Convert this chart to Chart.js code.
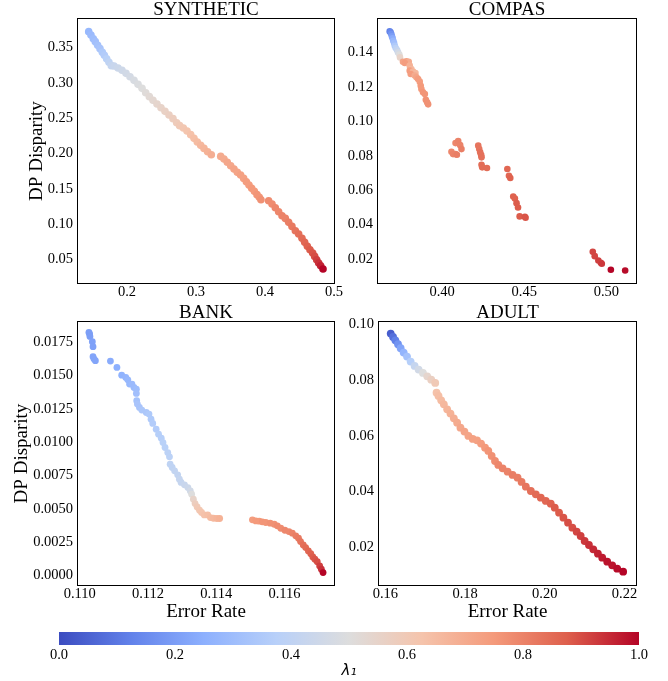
<!DOCTYPE html>
<html>
<head>
<meta charset="utf-8">
<script src="https://cdn.jsdelivr.net/npm/chart.js@4.4.0/dist/chart.umd.min.js"></script>
<style>
    body { margin: 0; background: #fff; }
    #contenitore { position: relative; width: 668px; height: 681px; }
    canvas { position: absolute; }
</style>
</head>
<body>
<div id="contenitore">
    <canvas id="graficoSynthetic" width="345" height="310" style="left:0;top:0"></canvas>
    <canvas id="graficoCompas" width="328" height="310" style="left:340px;top:0"></canvas>
    <canvas id="graficoBank" width="345" height="320" style="left:0;top:303px"></canvas>
    <canvas id="graficoAdult" width="328" height="320" style="left:340px;top:303px"></canvas>
    <canvas id="barraColori" width="668" height="61" style="left:0;top:620px"></canvas>
</div>
<script>
const titoli = ['SYNTHETIC', 'COMPAS', 'BANK', 'ADULT'];

// SYNTHETIC
const synErr = [0.1445, 0.1478, 0.1512, 0.1541, 0.1575, 0.1609, 0.1643, 0.1672, 0.1705, 0.1739, 0.1773,
    0.1812, 0.1870, 0.1928, 0.1986, 0.2044, 0.2102, 0.2160, 0.2218, 0.2271, 0.2324, 0.2377, 0.2435, 0.2493, 0.2551,
    0.2609, 0.2667, 0.2720, 0.2763, 0.2817, 0.2870, 0.2923, 0.2971, 0.3019, 0.3068, 0.3116, 0.3169, 0.3222,
    0.3358, 0.3406, 0.3454, 0.3503, 0.3551, 0.3599, 0.3647, 0.3691, 0.3730, 0.3768, 0.3807, 0.3846, 0.3884, 0.3918, 0.3942,
    0.4053, 0.4102, 0.4150, 0.4198, 0.4247, 0.4295, 0.4343, 0.4391, 0.4440, 0.4488, 0.4536, 0.4575, 0.4614, 0.4652,
    0.4691, 0.4720, 0.4749, 0.4778, 0.4807, 0.4841];
const synDp = [0.3721, 0.3674, 0.3622, 0.3580, 0.3528, 0.3481, 0.3429, 0.3387, 0.3339, 0.3288, 0.3241,
    0.3236, 0.3208, 0.3175, 0.3132, 0.3085, 0.3033, 0.2977, 0.2920, 0.2859, 0.2803, 0.2751, 0.2699, 0.2647, 0.2595,
    0.2543, 0.2492, 0.2435, 0.2393, 0.2360, 0.2317, 0.2266, 0.2214, 0.2162, 0.2115, 0.2072, 0.2025, 0.1983,
    0.1959, 0.1922, 0.1875, 0.1827, 0.1780, 0.1733, 0.1696, 0.1648, 0.1601, 0.1554, 0.1507, 0.1465, 0.1418, 0.1380, 0.1347,
    0.1333, 0.1286, 0.1234, 0.1177, 0.1121, 0.1083, 0.1027, 0.0970, 0.0909, 0.0862, 0.0801, 0.0744, 0.0688, 0.0640,
    0.0593, 0.0546, 0.0499, 0.0452, 0.0414, 0.0367];
const synLam = [0.28, 0.29, 0.30, 0.31, 0.32, 0.33, 0.35, 0.36, 0.38, 0.40, 0.42,
    0.43, 0.44, 0.45, 0.46, 0.47, 0.48, 0.49, 0.50, 0.51, 0.52, 0.53, 0.54, 0.55, 0.56,
    0.57, 0.58, 0.59, 0.60, 0.61, 0.62, 0.63, 0.64, 0.65, 0.66, 0.67, 0.68, 0.69,
    0.70, 0.70, 0.71, 0.71, 0.72, 0.72, 0.73, 0.73, 0.74, 0.74, 0.75, 0.75, 0.76, 0.76, 0.77,
    0.78, 0.78, 0.79, 0.79, 0.80, 0.80, 0.81, 0.82, 0.83, 0.84, 0.85, 0.86, 0.87, 0.88,
    0.89, 0.90, 0.92, 0.94, 0.96, 1.00];

// COMPAS
const compasErr = [0.3681, 0.3687, 0.3691, 0.3695, 0.3699, 0.3703, 0.3708, 0.3712, 0.3718, 0.3726, 0.3732, 0.3740, 0.3744,
    0.3762, 0.3783, 0.3797, 0.3773, 0.3803, 0.3813, 0.3803, 0.3823, 0.3838, 0.3809, 0.3834, 0.3844, 0.3854, 0.3864,
    0.3870, 0.3874, 0.3884, 0.3895, 0.3901, 0.3909, 0.3915,
    0.4082, 0.4098, 0.4110, 0.4118, 0.4057, 0.4067, 0.4082, 0.4090,
    0.4220, 0.4226, 0.4232, 0.4238, 0.4240, 0.4240, 0.4244, 0.4273,
    0.4397, 0.4407, 0.4415,
    0.4433, 0.4443, 0.4453, 0.4462, 0.4472, 0.4504, 0.4508,
    0.4917, 0.4929, 0.4951, 0.4966, 0.4972, 0.5027, 0.5114];
const compasDp = [0.1523, 0.1517, 0.1508, 0.1494, 0.1483, 0.1469, 0.1455, 0.1440, 0.1426, 0.1415, 0.1401, 0.1388, 0.1372,
    0.1347, 0.1349, 0.1347, 0.1339, 0.1324, 0.1304, 0.1295, 0.1289, 0.1281, 0.1275, 0.1266, 0.1256, 0.1246, 0.1231,
    0.1207, 0.1188, 0.1169, 0.1159, 0.1126, 0.1111, 0.1099,
    0.0874, 0.0886, 0.0862, 0.0839, 0.0824, 0.0810, 0.0810, 0.0806,
    0.0859, 0.0839, 0.0820, 0.0804, 0.0791, 0.0748, 0.0733, 0.0729,
    0.0723, 0.0684, 0.0671,
    0.0564, 0.0552, 0.0525, 0.0500, 0.0448, 0.0446, 0.0440,
    0.0242, 0.0217, 0.0192, 0.0178, 0.0173, 0.0138, 0.0134];
const compasLam = [0.12, 0.14, 0.17, 0.20, 0.24, 0.28, 0.31, 0.35, 0.39, 0.42, 0.46, 0.50, 0.55,
    0.72, 0.73, 0.70, 0.74, 0.68, 0.66, 0.74, 0.67, 0.66, 0.74, 0.70, 0.72, 0.74, 0.74,
    0.75, 0.75, 0.76, 0.76, 0.77, 0.77, 0.77,
    0.79, 0.80, 0.80, 0.81, 0.79, 0.80, 0.80, 0.81,
    0.83, 0.83, 0.84, 0.84, 0.84, 0.85, 0.85, 0.85,
    0.86, 0.86, 0.87,
    0.87, 0.87, 0.88, 0.88, 0.88, 0.89, 0.89,
    0.91, 0.91, 0.92, 0.92, 0.93, 1.00, 0.99];

// BANK
const bankErr = [0.11027, 0.11029, 0.11030, 0.11037, 0.11039, 0.11039, 0.11042, 0.11046,
    0.11090, 0.11109, 0.11123, 0.11135, 0.11141, 0.11146, 0.11153, 0.11159, 0.11166, 0.11166, 0.11167, 0.11169,
    0.11175, 0.11182, 0.11195, 0.11203, 0.11209, 0.11214, 0.11224, 0.11231, 0.11239, 0.11244,
    0.11250, 0.11258, 0.11263, 0.11265, 0.11271, 0.11278, 0.11287, 0.11292, 0.11297, 0.11307,
    0.11317, 0.11324, 0.11328, 0.11333, 0.11338, 0.11344, 0.11351, 0.11357, 0.11365, 0.11375,
    0.11383, 0.11392, 0.11402, 0.11410,
    0.11506, 0.11516, 0.11526, 0.11535, 0.11545, 0.11558, 0.11570, 0.11579, 0.11589, 0.11601,
    0.11613, 0.11623, 0.11633, 0.11641, 0.11647, 0.11655, 0.11662, 0.11670, 0.11677, 0.11683,
    0.11689, 0.11696, 0.11703, 0.11708, 0.11713];
const bankDp = [0.01822, 0.01810, 0.01792, 0.01752, 0.01715, 0.01640, 0.01622, 0.01610,
    0.01607, 0.01560, 0.01502, 0.01485, 0.01467, 0.01435, 0.01435, 0.01410, 0.01397, 0.01365, 0.01310, 0.01285,
    0.01260, 0.01240, 0.01222, 0.01210, 0.01172, 0.01140, 0.01097, 0.01060, 0.01030, 0.00997,
    0.00960, 0.00922, 0.00890, 0.00835, 0.00810, 0.00785, 0.00755, 0.00723, 0.00698, 0.00680,
    0.00660, 0.00635, 0.00610, 0.00573, 0.00540, 0.00515, 0.00490, 0.00473, 0.00455, 0.00455,
    0.00435, 0.00430, 0.00428, 0.00428,
    0.00418, 0.00410, 0.00408, 0.00403, 0.00398, 0.00393, 0.00385, 0.00373, 0.00355, 0.00340,
    0.00330, 0.00318, 0.00298, 0.00280, 0.00255, 0.00230, 0.00210, 0.00185, 0.00165, 0.00140,
    0.00123, 0.00105, 0.00073, 0.00048, 0.00023];
const bankLam = [0.20, 0.20, 0.20, 0.21, 0.21, 0.22, 0.22, 0.22,
    0.24, 0.25, 0.26, 0.27, 0.28, 0.28, 0.29, 0.29, 0.30, 0.31, 0.32, 0.33,
    0.33, 0.34, 0.34, 0.35, 0.35, 0.36, 0.36, 0.37, 0.37, 0.38,
    0.38, 0.39, 0.39, 0.40, 0.40, 0.41, 0.41, 0.42, 0.42, 0.43,
    0.44, 0.46, 0.50, 0.55, 0.58, 0.60, 0.61, 0.62, 0.63, 0.64,
    0.65, 0.66, 0.67, 0.68,
    0.74, 0.75, 0.75, 0.76, 0.76, 0.77, 0.77, 0.78, 0.78, 0.79,
    0.79, 0.80, 0.81, 0.82, 0.83, 0.84, 0.85, 0.86, 0.87, 0.88,
    0.89, 0.90, 0.92, 0.94, 1.00];

// ADULT
const adultErr = [0.16134, 0.16193, 0.16251, 0.16318, 0.16384, 0.16459, 0.16543, 0.16634, 0.16734, 0.16834,
    0.16943, 0.17051, 0.17151, 0.17251,
    0.17284, 0.17334, 0.17401, 0.17468, 0.17551, 0.17634, 0.17718, 0.17801, 0.17884, 0.17984,
    0.18084, 0.18193, 0.18301, 0.18401, 0.18501, 0.18584, 0.18668, 0.18751, 0.18834, 0.18943,
    0.19068, 0.19193, 0.19318, 0.19418, 0.19526, 0.19651, 0.19776, 0.19901, 0.20026, 0.20151,
    0.20251, 0.20359, 0.20468, 0.20584, 0.20693, 0.20801, 0.20901, 0.21001, 0.21109, 0.21218,
    0.21334, 0.21443, 0.21568, 0.21693, 0.21818, 0.21968];
const adultDp = [0.09664, 0.09545, 0.09425, 0.09282, 0.09139, 0.08983, 0.08840, 0.08661, 0.08505, 0.08374,
    0.08254, 0.08135, 0.08015, 0.07896,
    0.07549, 0.07430, 0.07275, 0.07131, 0.06952, 0.06797, 0.06630, 0.06474, 0.06295, 0.06152,
    0.05996, 0.05889, 0.05841, 0.05722, 0.05578, 0.05459, 0.05280, 0.05100, 0.04957, 0.04838,
    0.04718, 0.04599, 0.04503, 0.04348, 0.04180, 0.04025, 0.03906, 0.03786, 0.03667, 0.03571,
    0.03428, 0.03248, 0.03069, 0.02890, 0.02711, 0.02567, 0.02412, 0.02233, 0.02090, 0.01934,
    0.01779, 0.01636, 0.01492, 0.01361, 0.01241, 0.01134];
const adultLam = [0.04, 0.08, 0.12, 0.17, 0.22, 0.27, 0.32, 0.37, 0.42, 0.46,
    0.50, 0.54, 0.57, 0.60,
    0.63, 0.64, 0.65, 0.66, 0.67, 0.68, 0.69, 0.70, 0.71, 0.72,
    0.72, 0.73, 0.73, 0.74, 0.75, 0.76, 0.77, 0.78, 0.79, 0.80,
    0.80, 0.81, 0.81, 0.82, 0.83, 0.84, 0.85, 0.86, 0.86, 0.87,
    0.88, 0.88, 0.89, 0.90, 0.90, 0.91, 0.92, 0.93, 0.94, 0.95,
    0.96, 0.97, 0.98, 0.98, 0.99, 1.00];

// tacche degli assi
const synTickX = [0.2, 0.3, 0.4, 0.5];
const synTickY = [0.05, 0.10, 0.15, 0.20, 0.25, 0.30, 0.35];
const compasTickX = [0.40, 0.45, 0.50];
const compasTickY = [0.02, 0.04, 0.06, 0.08, 0.10, 0.12, 0.14];
const bankTickX = [0.110, 0.112, 0.114, 0.116];
const bankTickY = [0.0000, 0.0025, 0.0050, 0.0075, 0.0100, 0.0125, 0.0150, 0.0175];
const adultTickX = [0.16, 0.18, 0.20, 0.22];
const adultTickY = [0.02, 0.04, 0.06, 0.08, 0.10];
const barraTick = [0.0, 0.2, 0.4, 0.6, 0.8, 1.0];

const SERIF = "'Liberation Serif', 'Times New Roman', serif";

// mappa coolwarm (punti di controllo)
const COOLWARM = [
    [0.000, 59, 76, 192], [0.125, 98, 130, 234], [0.250, 141, 176, 254],
    [0.375, 184, 208, 249], [0.500, 221, 221, 221], [0.625, 245, 196, 172],
    [0.750, 244, 154, 123], [0.875, 222, 96, 77], [1.000, 180, 4, 38]
];

function coolwarm(t) {
    if (t === undefined) t = 1;
    t = Math.min(1, Math.max(0, t));
    for (let i = 1; i < COOLWARM.length; i++) {
        const a = COOLWARM[i - 1], b = COOLWARM[i];
        if (t <= b[0]) {
            const f = (t - a[0]) / (b[0] - a[0]);
            const r = Math.round(a[1] + (b[1] - a[1]) * f);
            const g = Math.round(a[2] + (b[2] - a[2]) * f);
            const bl = Math.round(a[3] + (b[3] - a[3]) * f);
            return `rgb(${r},${g},${bl})`;
        }
    }
    return 'rgb(180,4,38)';
}

const cornice = {
    id: 'cornice',
    afterDraw(chart) {
        const { ctx, chartArea: a } = chart;
        ctx.save();
        ctx.strokeStyle = '#000';
        ctx.lineWidth = 1;
        ctx.strokeRect(a.left - 0.5, a.top - 0.5, a.right - a.left + 1, a.bottom - a.top + 1);
        ctx.restore();
    }
};

function creaPannello(canvasId, titolo, errori, disparita, lambda, opz) {
    const ctx = document.getElementById(canvasId).getContext('2d');
    const fontTacche = { family: SERIF, size: 14.5 };
    const fontTitoli = { family: SERIF, size: 19, lineHeight: 1.2 };

    return new Chart(ctx, {
        type: 'scatter',
        data: {
            datasets: [{
                data: errori.map((e, i) => ({ x: e, y: disparita[i] })),
                backgroundColor: c => coolwarm(lambda[c.dataIndex]),
                pointRadius: opz.raggio,
                pointHoverRadius: opz.raggio,
                pointBorderWidth: 0
            }]
        },
        options: {
            responsive: false,
            animation: false,
            devicePixelRatio: 1,
            events: [],
            layout: { padding: { left: 0, top: 0, right: opz.destra, bottom: 0 } },
            plugins: {
                legend: { display: false },
                tooltip: { enabled: false },
                title: {
                    display: true,
                    text: titolo,
                    fullSize: false,
                    color: '#000',
                    font: { family: SERIF, size: 19, weight: 'normal', lineHeight: 17 / 19 },
                    padding: { top: 2, bottom: 0 }
                }
            },
            scales: {
                x: {
                    type: 'linear',
                    min: opz.xMin,
                    max: opz.xMax,
                    grid: { display: false, drawTicks: false },
                    border: { display: false },
                    afterBuildTicks: s => { s.ticks = opz.tickX.map(v => ({ value: v })); },
                    afterFit: s => { s.height = opz.altezzaX; },
                    ticks: {
                        color: '#000',
                        font: fontTacche,
                        padding: 0,
                        maxRotation: 0,
                        autoSkip: false,
                        callback: v => v.toFixed(opz.decX)
                    },
                    title: {
                        display: opz.titoloX,
                        text: 'Error Rate',
                        color: '#000',
                        font: fontTitoli,
                        padding: { top: 0, bottom: 0 }
                    }
                },
                y: {
                    type: 'linear',
                    min: opz.yMin,
                    max: opz.yMax,
                    grid: { display: false, drawTicks: false },
                    border: { display: false },
                    afterBuildTicks: s => { s.ticks = opz.tickY.map(v => ({ value: v })); },
                    afterFit: s => { s.width = opz.larghezzaY; },
                    ticks: {
                        color: '#000',
                        font: fontTacche,
                        padding: 5,
                        autoSkip: false,
                        callback: v => v.toFixed(opz.decY)
                    },
                    title: {
                        display: opz.titoloY,
                        text: 'DP Disparity',
                        color: '#000',
                        font: fontTitoli,
                        padding: { top: opz.spazioTitoloY, bottom: 0 }
                    }
                }
            }
        },
        plugins: [cornice]
    });
}

creaPannello('graficoSynthetic', titoli[0], synErr, synDp, synLam, {
    xMin: 0.129, xMax: 0.5, yMin: 0.017, yMax: 0.39,
    tickX: synTickX, tickY: synTickY, decX: 1, decY: 2,
    larghezzaY: 78, altezzaX: 27, destra: 11, spazioTitoloY: 25.5,
    titoloX: false, titoloY: true, raggio: 3.8
});

creaPannello('graficoCompas', titoli[1], compasErr, compasDp, compasLam, {
    xMin: 0.361, xMax: 0.518, yMin: 0.0061, yMax: 0.1595,
    tickX: compasTickX, tickY: compasTickY, decX: 2, decY: 2,
    larghezzaY: 38, altezzaX: 27, destra: 32, spazioTitoloY: 0,
    titoloX: false, titoloY: false, raggio: 3.3
});

creaPannello('graficoBank', titoli[2], bankErr, bankDp, bankLam, {
    xMin: 0.10995, xMax: 0.11745, yMin: -0.0007, yMax: 0.0190,
    tickX: bankTickX, tickY: bankTickY, decX: 3, decY: 4,
    larghezzaY: 78, altezzaX: 38, destra: 11, spazioTitoloY: 11,
    titoloX: true, titoloY: true, raggio: 3.4
});

creaPannello('graficoAdult', titoli[3], adultErr, adultDp, adultLam, {
    xMin: 0.1584, xMax: 0.2229, yMin: 0.00656, yMax: 0.1008,
    tickX: adultTickX, tickY: adultTickY, decX: 2, decY: 2,
    larghezzaY: 39, altezzaX: 38, destra: 32, spazioTitoloY: 0,
    titoloX: true, titoloY: false, raggio: 3.9
});

// barra dei colori
function gradienteBarra(c) {
    const area = c.chart.chartArea;
    if (!area) return '#ddd';
    const g = c.chart.ctx.createLinearGradient(area.left, 0, area.right, 0);
    COOLWARM.forEach(p => g.addColorStop(p[0], `rgb(${p[1]},${p[2]},${p[3]})`));
    return g;
}

new Chart(document.getElementById('barraColori').getContext('2d'), {
    type: 'bar',
    data: {
        labels: [''],
        datasets: [{
            data: [[0, 1]],
            backgroundColor: gradienteBarra,
            borderWidth: 0,
            barPercentage: 1,
            categoryPercentage: 1
        }]
    },
    options: {
        indexAxis: 'y',
        responsive: false,
        animation: false,
        devicePixelRatio: 1,
        events: [],
        layout: { padding: { left: 59, right: 29, top: 12, bottom: 0 } },
        plugins: { legend: { display: false }, tooltip: { enabled: false } },
        scales: {
            x: {
                type: 'linear',
                min: 0,
                max: 1,
                grid: { display: false, drawTicks: false },
                border: { display: false },
                afterBuildTicks: s => { s.ticks = barraTick.map(v => ({ value: v })); },
                afterFit: s => { s.height = 36; },
                ticks: {
                    color: '#000',
                    font: { family: SERIF, size: 14.5 },
                    padding: 1,
                    maxRotation: 0,
                    autoSkip: false,
                    callback: v => v.toFixed(1)
                },
                title: {
                    display: true,
                    text: 'λ₁',
                    color: '#000',
                    font: { family: "'DejaVu Sans', sans-serif", style: 'italic', size: 15, lineHeight: 1.2 },
                    padding: { top: 0, bottom: 1 }
                }
            },
            y: { display: false }
        }
    }
});
</script>
</body>
</html>
